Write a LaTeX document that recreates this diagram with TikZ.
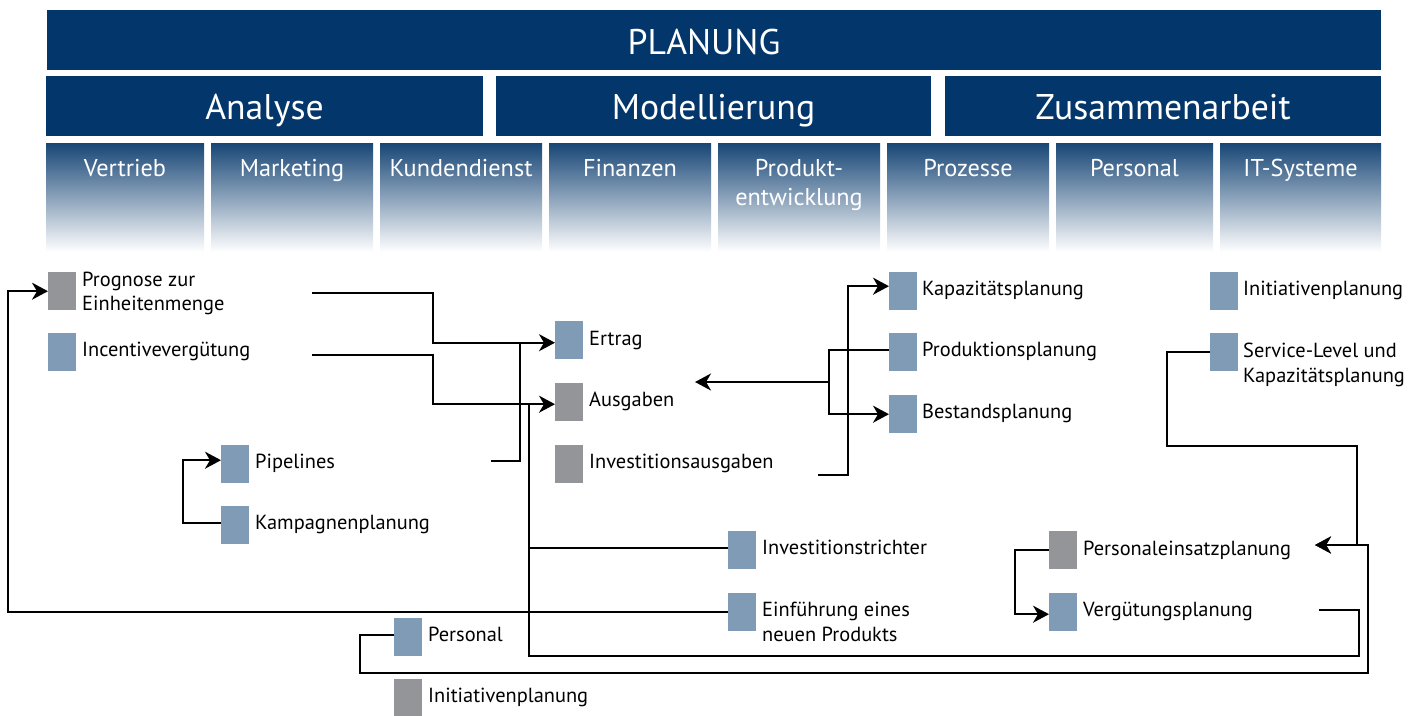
\documentclass[tikz,border=0pt]{standalone}
\usepackage{fontspec}
\setmainfont{PT Sans}
\usetikzlibrary{arrows.meta,calc}
\definecolor{navy}{HTML}{03366A}
\definecolor{sqblue}{HTML}{7F9BB6}
\definecolor{sqgray}{HTML}{939598}
\tikzset{
  bar/.style={fill=navy,draw=none},
  headtxt/.style={text=white,font=\fontsize{35.7}{40}\selectfont,inner sep=0pt,anchor=base},
  subtxt/.style={text=white,font=\fontsize{24.3}{29.7}\selectfont,inner sep=0pt,anchor=base,align=center},
  sq/.style={minimum width=28pt,minimum height=38pt,inner sep=0pt,draw=none,anchor=north west},
  bsq/.style={sq,fill=sqblue},
  gsq/.style={sq,fill=sqgray},
  lbl/.style={font=\fontsize{20.4}{24.3}\selectfont,inner sep=0pt,anchor=base west,align=left},
  ln/.style={line width=2.2pt,black},
  arr/.style={ln,-{Stealth[length=16pt,width=17pt,inset=5pt]}}
}
\begin{document}
\begin{tikzpicture}[x=1pt,y=-1pt]
\useasboundingbox (0,0) rectangle (1419,715);
% header bars
\fill[bar] (47,10) rectangle (1381,70);
\node[headtxt] (planung) at (704,54) {PLANUNG};
\fill[bar] (46,76) rectangle (483,136);
\fill[bar] (496,76) rectangle (931,136);
\fill[bar] (945,76) rectangle (1381,136);
\node[headtxt] (analyse) at (264.5,119.3) {Analyse};
\node[headtxt] (model) at (713.5,119.3) {Modellierung};
\node[headtxt] (zusam) at (1163,119.3) {Zusammenarbeit};
% sub heads
\foreach \a/\b in {46/204,211/373,380/542,549/711,718/880,887/1049,1056/1213,1220/1381}{
  \shade[top color=navy!92,bottom color=white] (\a,143) rectangle (\b,252);
}
\node[subtxt] (vertrieb) at (125,176) {Vertrieb};
\node[subtxt] (marketing) at (292,176) {Marketing};
\node[subtxt] (kunden) at (461,176) {Kundendienst};
\node[subtxt] (finanzen) at (630,176) {Finanzen};
\node[subtxt] (produkt) at (799,205.7) {Produkt-\\entwicklung};
\node[subtxt] (prozesse) at (968,176) {Prozesse};
\node[subtxt] (personalh) at (1134.5,176) {Personal};
\node[subtxt] (itsys) at (1300.5,176) {IT-Systeme};
% squares
\node[gsq] (prog) at (48,272) {};
\node[bsq] (incent) at (48,333) {};
\node[bsq] (pipe) at (221,445) {};
\node[bsq] (kamp) at (221,506) {};
\node[bsq] (ertrag) at (555,321) {};
\node[gsq] (ausg) at (555,383) {};
\node[gsq] (invaus) at (555,445) {};
\node[bsq] (kapaz) at (889,272) {};
\node[bsq] (prodpl) at (889,333) {};
\node[bsq] (bestand) at (889,395) {};
\node[bsq] (initr) at (1210,272) {};
\node[bsq] (service) at (1210,333) {};
\node[bsq] (invtr) at (728,531) {};
\node[bsq] (einf) at (728,593) {};
\node[gsq] (persein) at (1049,531) {};
\node[bsq] (verg) at (1049,593) {};
\node[bsq] (personal) at (394,618) {};
\node[gsq] (initb) at (394,679) {};
% labels
\node[lbl] (tprog) at (82,310.5) {Prognose zur\\Einheitenmenge};
\node[lbl] (tincent) at (82,356) {Incentivevergütung};
\node[lbl] (tpipe) at (255,468.5) {Pipelines};
\node[lbl] (tkamp) at (255,529.5) {Kampagnenplanung};
\node[lbl] (tertrag) at (589,345) {Ertrag};
\node[lbl] (tausg) at (589,406.5) {Ausgaben};
\node[lbl] (tinvaus) at (589,468.5) {Investitionsausgaben};
\node[lbl] (tkapaz) at (922,295) {Kapazitätsplanung};
\node[lbl] (tprodpl) at (922,356.5) {Produktionsplanung};
\node[lbl] (tbestand) at (922,418.5) {Bestandsplanung};
\node[lbl] (tinitr) at (1243,295) {Initiativenplanung};
\node[lbl] (tservice) at (1243,382) {Service-Level und\\Kapazitätsplanung};
\node[lbl] (tinvtr) at (762,554.5) {Investitionstrichter};
\node[lbl] (teinf) at (762,641) {Einführung eines\\neuen Produkts};
\node[lbl] (tpersein) at (1083,555) {Personaleinsatzplanung};
\node[lbl] (tverg) at (1083,616.7) {Vergütungsplanung};
\node[lbl] (tpersonal) at (428,641) {Personal};
\node[lbl] (tinitb) at (428,702.5) {Initiativenplanung};
% port coordinates on squares
\coordinate (eErtrag) at ([yshift=-2.5pt]ertrag.west);
\coordinate (eAusg) at ([yshift=-2pt]ausg.west);
\coordinate (eInvtr) at ([yshift=2pt]invtr.west);
\coordinate (eKamp) at ([yshift=2pt]kamp.west);
\coordinate (ePipe) at ([yshift=4pt]pipe.west);
\coordinate (eKapaz) at ([yshift=5pt]kapaz.west);
\coordinate (eProd) at ([yshift=2pt]prodpl.west);
\coordinate (ePers) at ([yshift=2pt]personal.west);
\coordinate (eVerg) at ([yshift=-2pt]verg.west);
% free ends
\coordinate (p1) at (312,293);
\coordinate (p2) at (312,355);
\coordinate (p3) at (491,461);
\coordinate (p4) at (818,475);
\coordinate (p5) at (1319,610);
\coordinate (ausgEnd) at (695,382);
\coordinate (persEnd) at (1315,545);
% routing guides
\coordinate (xa) at (433,0);
\coordinate (xb) at (520,0);
\coordinate (xc) at (529,0);
\coordinate (xd) at (8,0);
\coordinate (xe) at (183,0);
\coordinate (xf) at (848,0);
\coordinate (xg) at (829,0);
\coordinate (xh) at (1167,0);
\coordinate (xi) at (1357,0);
\coordinate (xj) at (1368,0);
\coordinate (xk) at (360,0);
\coordinate (xl) at (1015,0);
\coordinate (xm) at (1359,0);
\coordinate (yA) at (0,656);
\coordinate (yB) at (0,673);
\coordinate (yC) at (0,446);
% connectors
\draw[arr] (p1) -| (xa |- eErtrag) -- (eErtrag);
\draw[arr] (p2) -| (xa |- eAusg) -- (eAusg);
\draw[ln] (p3) -| (xb |- eErtrag);
\draw[ln] (eInvtr) -- (xc |- eInvtr);
\draw[ln] (p5) -| (xm |- yA) -- (xc |- yA) -- (xc |- eAusg);
\draw[arr] (einf.west) -- (xd |- einf.west) -- (xd |- prog.west) -- (prog.west);
\draw[arr] (eKamp) -- (xe |- eKamp) |- (ePipe);
\draw[arr] (p4) -| (xf |- eKapaz) -- (eKapaz);
\draw[arr] (eProd) -- (xg |- eProd) |- (bestand.west);
\draw[arr] (xg |- ausgEnd) -- (ausgEnd);
\draw[arr] (service.west) -- (xh |- service.west) |- (xi |- yC) |- (persEnd);
\draw[arr] (ePers) -- (xk |- ePers) |- (xj |- yB) |- (persEnd);
\draw[arr] (persein.west) -- (xl |- persein.west) |- (eVerg);
\end{tikzpicture}
\end{document}
